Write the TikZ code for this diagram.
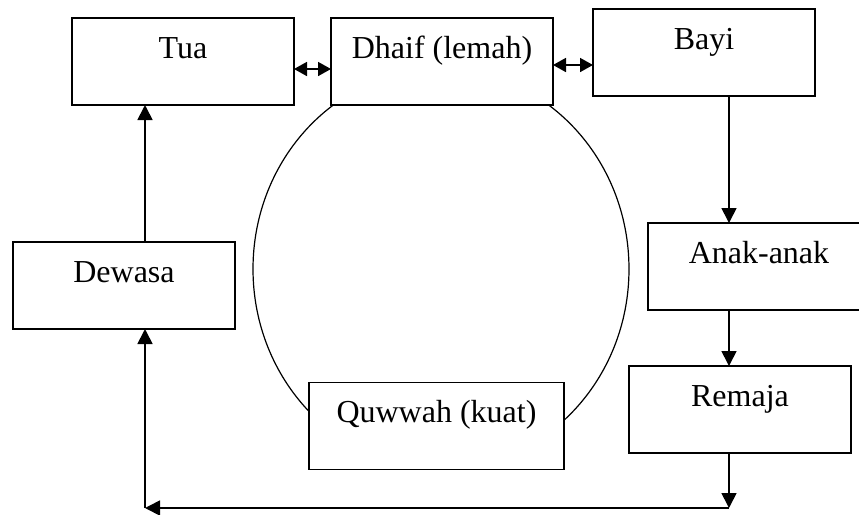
\documentclass[tikz,border=0pt]{standalone}
\usepackage{fontspec}
\setmainfont{Liberation Serif}
\usetikzlibrary{arrows.meta}

\begin{document}
\begin{tikzpicture}[x=0.5pt,y=-0.5pt,
  box/.style={draw,fill=white,line width=0.85pt,inner sep=0pt,outer sep=0pt,
    minimum width=111pt,text height=20pt,text depth=23.5pt,
    font=\fontsize{16}{19}\selectfont},
  arr/.style={line width=0.85pt,-{Triangle[length=7.5pt,width=7.5pt]}},
  arr2/.style={line width=0.85pt,{Triangle[length=6.5pt,width=7pt]}-{Triangle[length=6.5pt,width=7pt]}}]
\useasboundingbox (0,0) rectangle (859,515);
\draw[line width=0.6pt] (441,269) ellipse [x radius=94pt, y radius=100pt];
\node[box] (tua) at (183,61.5) {Tua};
\node[box] (dhaif) at (442,61.5) {Dhaif (lemah)};
\node[box] (bayi) at (704,52.5) {Bayi};
\node[box] (anak) at (759,266.5) {Anak-anak};
\node[box] (remaja) at (740,409.5) {Remaja};
\node[box,minimum width=127.5pt] (quwwah) at (436.5,426) {Quwwah (kuat)};
\node[box] (dewasa) at (124,285.5) {Dewasa};
\coordinate (kanan) at (729,508);
\coordinate (kiri) at (145,508);
\draw[arr2] ([yshift=-3.75pt]tua.east) -- ([yshift=-3.75pt]dhaif.west);
\draw[arr2] ([yshift=-1.75pt]dhaif.east) -- ([yshift=-1.75pt]dhaif.east -| bayi.west);
\draw[arr] (bayi.south -| kanan) -- (anak.north -| kanan);
\draw[arr] (anak.south -| kanan) -- (remaja.north -| kanan);
\draw[arr] (remaja.south -| kanan) -- (kanan);
\draw[arr] (kanan) -- (kiri);
\draw[arr] (kiri) -- (dewasa.south -| kiri);
\draw[arr] (dewasa.north -| kiri) -- (tua.south -| kiri);
\end{tikzpicture}
\end{document}
